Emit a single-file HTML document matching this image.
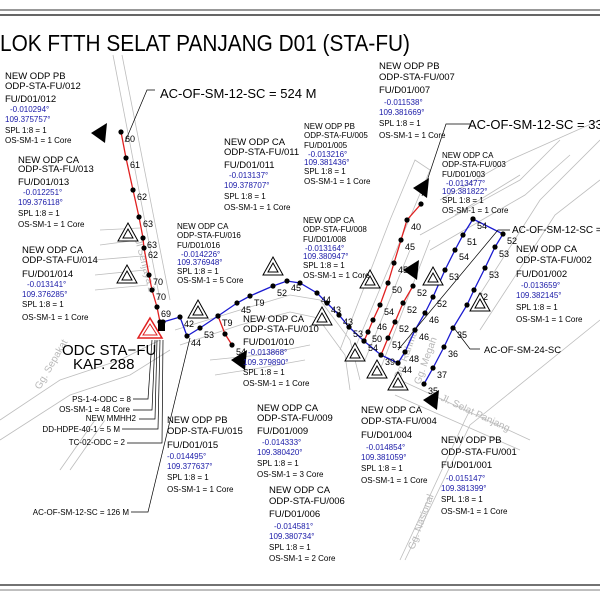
<!DOCTYPE html>
<html><head><meta charset="utf-8"><style>
html,body{margin:0;padding:0;background:#fff;}
svg{display:block;font-family:"Liberation Sans",sans-serif;}
.t{font-size:9.5px;fill:#000;}
.s{font-size:8px;fill:#000;}
.b{fill:#1a1aa8;}
.n{font-size:9px;fill:#000;}
.road{stroke:#bdbdbd;stroke-width:0.8;fill:none;}
</style></head><body>
<svg id="map" width="600" height="600" viewBox="0 0 600 600">
<g>
<line x1="0" y1="10" x2="600" y2="10" stroke="#777" stroke-width="1.5"/>
<line x1="0" y1="15" x2="600" y2="15" stroke="#333" stroke-width="1.5"/>
<line x1="0" y1="585" x2="600" y2="585" stroke="#444" stroke-width="1.5"/>
<line x1="0" y1="590" x2="600" y2="590" stroke="#999" stroke-width="1.2"/>
</g>
<text x="0" y="51" font-size="23" textLength="410" lengthAdjust="spacingAndGlyphs">LOK FTTH SELAT PANJANG D01 (STA-FU)</text>
<g>
<path class="road" d="M113 55 L160 300 M122 55 L170 300"/>
<path class="road" d="M100 230 L140 228 M100 245 L138 240 M95 260 L142 256 M95 275 L145 270 M95 290 L148 285"/>
<path class="road" d="M0 420 L60 380 L120 360 L160 340 M0 440 L70 395 L130 375 L170 350"/>
<path class="road" d="M175 330 L240 310 L290 295 L320 300 L350 340 L360 380 M180 345 L240 325 L290 312 L318 318 L345 355 L350 390"/>
<path class="road" d="M210 360 L260 355 L310 345 M215 375 L260 368 L305 360"/>
<path class="road" d="M60 470 L95 420 M70 470 L105 420"/>
<path class="road" d="M340 350 L390 220 L415 160 L430 170 L350 360 M365 360 L410 250 M380 370 L430 240"/>
<path class="road" d="M420 235 L520 180 L560 140 M430 250 L525 195 L570 155"/>
<path class="road" d="M470 310 L540 200 L600 140 M480 330 L555 215 L600 180"/>
<path class="road" d="M400 380 L530 440 M395 395 L520 450"/>
<path class="road" d="M400 560 L465 420 L470 410 M405 560 L470 425 L600 320"/>
<path class="road" d="M440 200 L510 160 L600 120 M455 215 L520 175"/>
</g>
<g fill="#b8b8b8" font-size="10">
<text x="135" y="240" transform="rotate(75 135 240)">Jl Senjaya 2</text>
<text x="40" y="390" transform="rotate(-60 40 390)">Gg. Sepakat</text>
<text x="400" y="380" transform="rotate(-70 400 380)">Gg. Rahmat</text>
<text x="420" y="385" transform="rotate(-70 420 385)">Gg. Megah</text>
<text x="440" y="400" transform="rotate(25 440 400)">Jl. Selat Panjang</text>
<text x="414" y="550" transform="rotate(-70 414 550)">Gg. Nasional</text>
</g>
<g id="routes"></g>
<g>
<polygon points="150,318 162,338 138,338" fill="none" stroke="#e02020" stroke-width="1.5"/>
<polygon points="150,324 157,335 143,335" fill="none" stroke="#e02020" stroke-width="1"/>
<rect x="158" y="324" width="7" height="7" fill="#000"/>
</g>
<g stroke="#000" stroke-width="0.7" fill="none">
<path d="M155 90 L147 90 L125 142"/>
<path d="M470 124 L446 124 L422 196"/>
<path d="M510 230 L498 230 L398 350"/>
<path d="M480 349 L470 349 L454 328"/>
<path d="M133 399 L148 399 L152 340 M133 410 L152 410 L155 340 M139 419 L155 419 L157 340 M122 429 L158 429 L160 340 M127 443 L162 443 L163 340 M131 512 L148 512 L190 338"/>
</g>
<g id="odps"></g>
<g>
<text class="t" x="5" y="79">NEW ODP PB</text><text class="t" x="5" y="89">ODP-STA-FU/012</text><text class="t" x="5" y="102">FU/D01/012</text><text class="s b" x="10" y="112">-0.010294°</text><text class="s b" x="5" y="122">109.375757°</text><text class="s" x="5" y="133">SPL 1:8 = 1</text><text class="s" x="5" y="143">OS-SM-1 = 1 Core</text>
<text class="t" x="18" y="163">NEW ODP CA</text><text class="t" x="18" y="172">ODP-STA-FU/013</text><text class="t" x="18" y="185">FU/D01/013</text><text class="s b" x="23" y="195">-0.012251°</text><text class="s b" x="18" y="205">109.376118°</text><text class="s" x="18" y="216">SPL 1:8 = 1</text><text class="s" x="18" y="227">OS-SM-1 = 1 Core</text>
<text class="t" x="22" y="253">NEW ODP CA</text><text class="t" x="22" y="263">ODP-STA-FU/014</text><text class="t" x="22" y="277">FU/D01/014</text><text class="s b" x="27" y="287">-0.013141°</text><text class="s b" x="22" y="297">109.376285°</text><text class="s" x="22" y="307">SPL 1:8 = 1</text><text class="s" x="22" y="320">OS-SM-1 = 1 Core</text>
<text class="t" x="224" y="145">NEW ODP CA</text><text class="t" x="224" y="155">ODP-STA-FU/011</text><text class="t" x="224" y="168">FU/D01/011</text><text class="s b" x="229" y="178">-0.013137°</text><text class="s b" x="224" y="188">109.378707°</text><text class="s" x="224" y="199">SPL 1:8 = 1</text><text class="s" x="224" y="210">OS-SM-1 = 1 Core</text>
<text class="s" x="177" y="229">NEW ODP CA</text><text class="s" x="177" y="238">ODP-STA-FU/016</text><text class="s" x="177" y="248">FU/D01/016</text><text class="s b" x="181" y="257" font-size="7">-0.014226°</text><text class="s b" x="177" y="265" font-size="7">109.376948°</text><text class="s" x="177" y="274">SPL 1:8 = 1</text><text class="s" x="177" y="283">OS-SM-1 = 5 Core</text>
<text class="t" x="379" y="69">NEW ODP PB</text><text class="t" x="379" y="80">ODP-STA-FU/007</text><text class="t" x="379" y="93">FU/D01/007</text><text class="s b" x="384" y="105">-0.011538°</text><text class="s b" x="379" y="115">109.381669°</text><text class="s" x="379" y="126">SPL 1:8 = 1</text><text class="s" x="379" y="138">OS-SM-1 = 1 Core</text>
<text class="s" x="304" y="129">NEW ODP PB</text><text class="s" x="304" y="138">ODP-STA-FU/005</text><text class="s" x="304" y="148">FU/D01/005</text><text class="s b" x="308" y="157" font-size="7">-0.013216°</text><text class="s b" x="304" y="165" font-size="7">109.381436°</text><text class="s" x="304" y="174">SPL 1:8 = 1</text><text class="s" x="304" y="184">OS-SM-1 = 1 Core</text>
<text class="s" x="442" y="158">NEW ODP CA</text><text class="s" x="442" y="167">ODP-STA-FU/003</text><text class="s" x="442" y="177">FU/D01/003</text><text class="s b" x="446" y="186" font-size="7">-0.013477°</text><text class="s b" x="442" y="194" font-size="7">109.381822°</text><text class="s" x="442" y="203">SPL 1:8 = 1</text><text class="s" x="442" y="213">OS-SM-1 = 1 Core</text>
<text class="s" x="303" y="223">NEW ODP CA</text><text class="s" x="303" y="232">ODP-STA-FU/008</text><text class="s" x="303" y="242">FU/D01/008</text><text class="s b" x="305" y="251" font-size="7">-0.013164°</text><text class="s b" x="303" y="259" font-size="7">109.380947°</text><text class="s" x="303" y="268">SPL 1:8 = 1</text><text class="s" x="303" y="278">OS-SM-1 = 1 Core</text>
<text class="t" x="516" y="252">NEW ODP CA</text><text class="t" x="516" y="263">ODP-STA-FU/002</text><text class="t" x="516" y="277">FU/D01/002</text><text class="s b" x="521" y="288">-0.013659°</text><text class="s b" x="516" y="298">109.382145°</text><text class="s" x="516" y="310">SPL 1:8 = 1</text><text class="s" x="516" y="322">OS-SM-1 = 1 Core</text>
<text class="t" x="243" y="322">NEW ODP CA</text><text class="t" x="243" y="332">ODP-STA-FU/010</text><text class="t" x="243" y="345">FU/D01/010</text><text class="s b" x="248" y="355">-0.013868°</text><text class="s b" x="243" y="365">109.379890°</text><text class="s" x="243" y="375">SPL 1:8 = 1</text><text class="s" x="243" y="386">OS-SM-1 = 1 Core</text>
<text class="t" x="167" y="423">NEW ODP PB</text><text class="t" x="167" y="434">ODP-STA-FU/015</text><text class="t" x="167" y="448">FU/D01/015</text><text class="s b" x="167" y="459">-0.014495°</text><text class="s b" x="167" y="469">109.377637°</text><text class="s" x="167" y="480">SPL 1:8 = 1</text><text class="s" x="167" y="492">OS-SM-1 = 1 Core</text>
<text class="t" x="257" y="411">NEW ODP CA</text><text class="t" x="257" y="421">ODP-STA-FU/009</text><text class="t" x="257" y="434">FU/D01/009</text><text class="s b" x="262" y="445">-0.014333°</text><text class="s b" x="257" y="455">109.380420°</text><text class="s" x="257" y="466">SPL 1:8 = 1</text><text class="s" x="257" y="477">OS-SM-1 = 3 Core</text>
<text class="t" x="269" y="493">NEW ODP CA</text><text class="t" x="269" y="504">ODP-STA-FU/006</text><text class="t" x="269" y="517">FU/D01/006</text><text class="s b" x="274" y="529">-0.014581°</text><text class="s b" x="269" y="539">109.380734°</text><text class="s" x="269" y="550">SPL 1:8 = 1</text><text class="s" x="269" y="561">OS-SM-1 = 2 Core</text>
<text class="t" x="361" y="413">NEW ODP CA</text><text class="t" x="361" y="424">ODP-STA-FU/004</text><text class="t" x="361" y="438">FU/D01/004</text><text class="s b" x="366" y="450">-0.014854°</text><text class="s b" x="361" y="460">109.381059°</text><text class="s" x="361" y="471">SPL 1:8 = 1</text><text class="s" x="361" y="483">OS-SM-1 = 1 Core</text>
<text class="t" x="441" y="443">NEW ODP PB</text><text class="t" x="441" y="455">ODP-STA-FU/001</text><text class="t" x="441" y="468">FU/D01/001</text><text class="s b" x="446" y="481">-0.015147°</text><text class="s b" x="441" y="491">109.381399°</text><text class="s" x="441" y="502">SPL 1:8 = 1</text><text class="s" x="441" y="514">OS-SM-1 = 1 Core</text>
</g>
<g font-size="15">
<text x="62" y="355">ODC STA−FU</text><text x="73" y="369">KAP. 288</text>
</g>
<g font-size="8" text-anchor="end">
<text x="131" y="402">PS-1-4-ODC = 8</text><text x="130" y="412">OS-SM-1 = 48 Core</text><text x="136" y="421">NEW MMHH2</text><text x="120" y="432">DD-HDPE-40-1 = 5 M</text><text x="125" y="445">TC-02-ODC = 2</text><text x="129" y="515">AC-OF-SM-12-SC = 126 M</text>
</g>
<g>
<text x="160" y="98" font-size="13">AC-OF-SM-12-SC = 524 M</text>
<text x="468" y="129" font-size="13">AC-OF-SM-12-SC = 330</text>
<text x="512" y="233" font-size="10">AC-OF-SM-12-SC = 1</text>
<text x="484" y="353" font-size="9.5">AC-OF-SM-24-SC</text>
</g>
</svg>
<script>
const redMain=[[121,132],[126,158],[133,190],[139,217],[143,238],[144,248],[149,275],[152,290],[157,307],[160,322]];
const redMainLbl=["60","61","62","63","63","62","70","70","69",""];
const blueMain=[[163,322],[180,317],[187,336],[200,328],[218,316],[237,303],[250,296],[273,286],[287,281],[300,283],[317,293],[327,303],[339,315],[349,327],[364,341],[381,355],[398,363]];
const blueMainLbl=["","42","44","53","T9","45","T9","52","45","","44","43","43","53","54","39","44"];
const redBranch=[[218,316],[225,334],[232,345]];
const redUp1=[[364,341],[368,332],[373,320],[380,305],[388,283],[394,263],[401,240],[407,220],[421,204]];
const redUp1Lbl=["","50","46","54","50","45","45","40",""];
const redUp2=[[381,355],[388,338],[395,322],[403,303],[413,286]];
const redUp2Lbl=["","51","52","52","52"];
const blueLeft=[[398,363],[405,352],[415,330],[425,313],[433,297],[445,270],[455,250],[463,235],[473,219]];
const blueLeftLbl=["","48","46","46","52","53","54","51",""];
const blueRight=[[473,219],[503,234],[495,247],[485,268],[474,290],[467,305],[453,328],[444,347],[433,368],[424,384]];
const blueRightLbl=["54","52","53","53","52","","35","36","37","35"];
const odpOpen=[[128,233],[127,275],[273,267],[198,310],[322,317],[370,280],[433,277],[355,353],[377,370],[398,382],[480,303]];
const odpFilled=[[100,133],[422,188],[240,360],[412,270],[432,400]];
const NS='http://www.w3.org/2000/svg';
const R=document.getElementById('routes');
function route(pts,lbl,color,name){
  const pl=document.createElementNS(NS,'polyline');
  pl.setAttribute('points',pts.map(p=>p.join(',')).join(' '));
  pl.setAttribute('fill','none');pl.setAttribute('stroke',color);pl.setAttribute('stroke-width','1.3');
  
  
  R.appendChild(pl);
  pts.forEach((p,i)=>{
    const c=document.createElementNS(NS,'circle');
    c.setAttribute('cx',p[0]);c.setAttribute('cy',p[1]);c.setAttribute('r','2.6');c.setAttribute('fill','#000');
    
    
    R.appendChild(c);
    if(lbl&&lbl[i]){const t=document.createElementNS(NS,'text');
      t.setAttribute('x',p[0]+4);t.setAttribute('y',p[1]+10);t.setAttribute('class','n');t.textContent=lbl[i];
      
      
      R.appendChild(t);}
  });
}
route(redMain,redMainLbl,'#e02020','red-cable-main');
route(blueMain,blueMainLbl,'#1a1ad0','blue-cable-main');
route(redBranch,["","","54"],'#e02020','red-cable-branch');
route(redUp1,redUp1Lbl,'#e02020','red-cable-north');
route(redUp2,redUp2Lbl,'#e02020','red-cable-north-2');
route(blueLeft,blueLeftLbl,'#1a1ad0','blue-cable-left');
route(blueRight,blueRightLbl,'#1a1ad0','blue-cable-right');
const O=document.getElementById('odps');
odpOpen.forEach(p=>{
  const g=document.createElementNS(NS,'g');
  
  
  const x=p[0],y=p[1];
  g.innerHTML=`<polygon points="${x},${y-10} ${x+10},${y+8} ${x-10},${y+8}" fill="#fff" stroke="#000" stroke-width="1"/><polygon points="${x},${y-4} ${x+5},${y+5} ${x-5},${y+5}" fill="none" stroke="#000" stroke-width="1"/>`;
  O.appendChild(g);
});
odpFilled.forEach(p=>{
  const g=document.createElementNS(NS,'polygon');
  const x=p[0],y=p[1];
  g.setAttribute('points',`${x-9},${y} ${x+7},${y-10} ${x+5},${y+10}`);
  g.setAttribute('fill','#000');
  
  
  O.appendChild(g);
});
</script>
</body></html>
